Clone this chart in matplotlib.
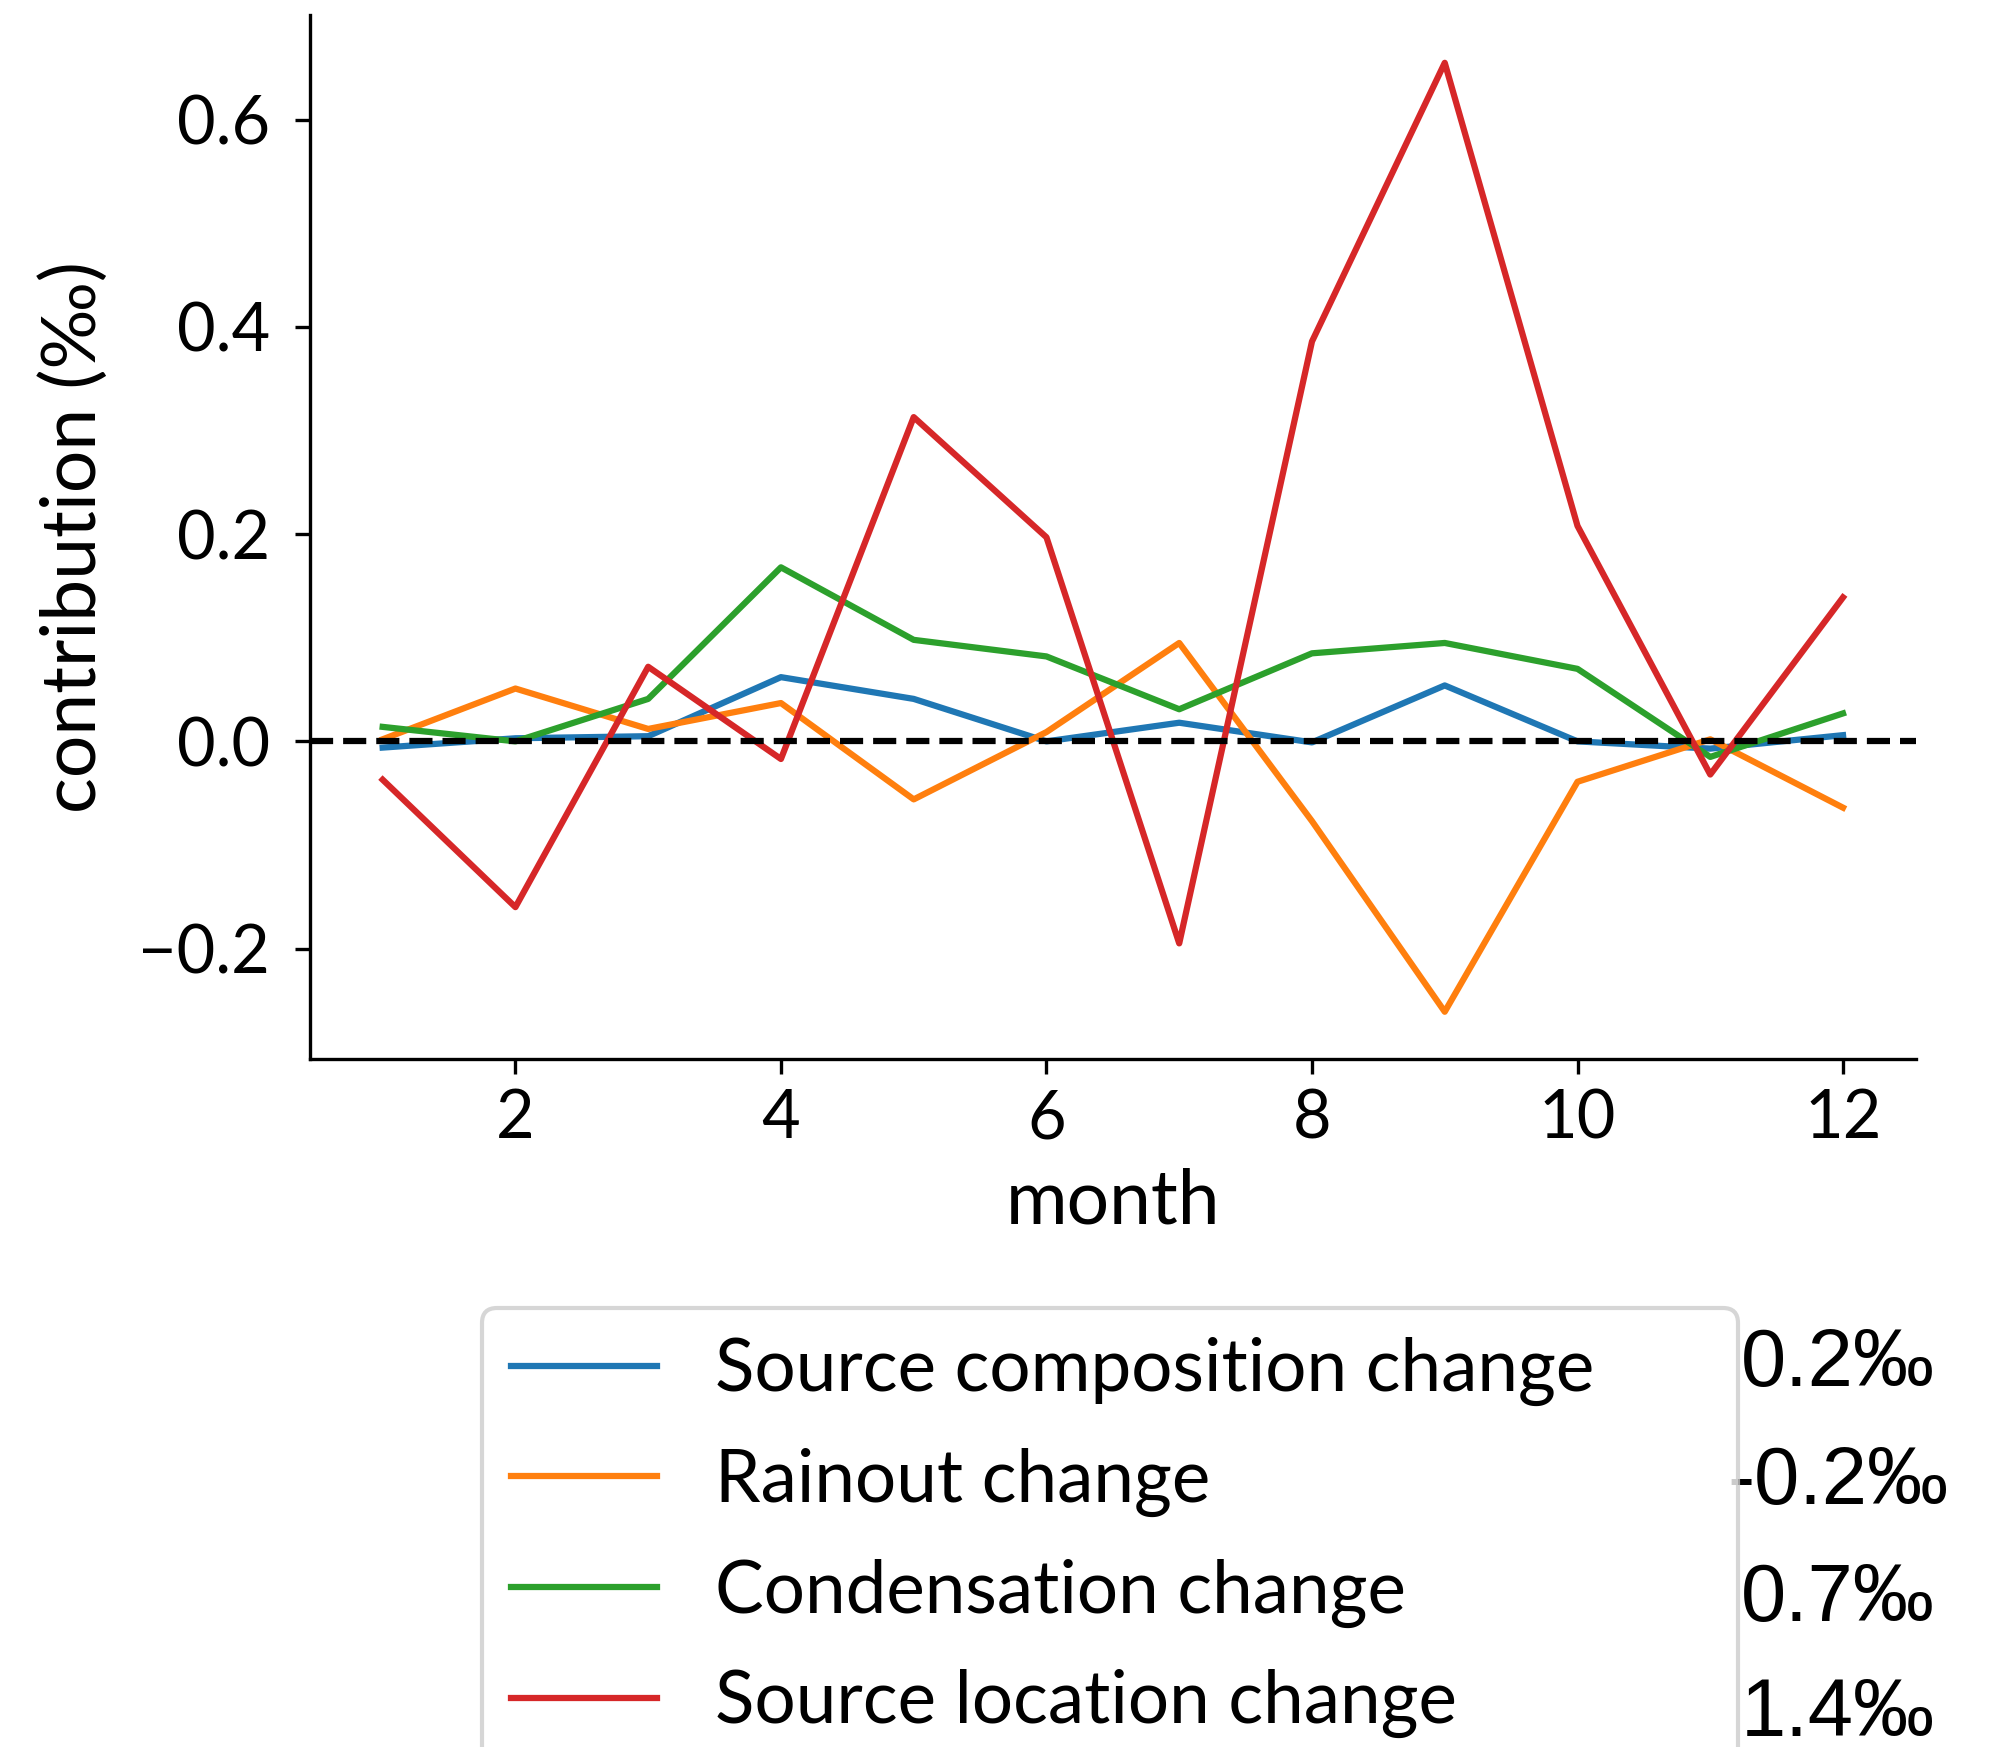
import matplotlib
matplotlib.use('Agg')
import matplotlib.pyplot as plt

plt.rcParams['font.family'] = ['Lato', 'DejaVu Sans']

months = list(range(1, 13))

# monthly contributions (permil)
source_comp = [-0.006, 0.003, 0.005, 0.062, 0.041, 0.0, 0.018, -0.001, 0.054, 0.0, -0.007, 0.006]
rainout = [0.002, 0.051, 0.012, 0.037, -0.056, 0.009, 0.095, -0.077, -0.261, -0.039, 0.002, -0.064]
condensation = [0.014, 0.0, 0.041, 0.168, 0.098, 0.082, 0.031, 0.085, 0.095, 0.070, -0.015, 0.027]
source_loc = [-0.037, -0.160, 0.072, -0.017, 0.313, 0.197, -0.195, 0.386, 0.655, 0.208, -0.032, 0.139]

labels = ['Source composition change', 'Rainout change',
          'Condensation change', 'Source location change']
totals = ['0.2\u2030', '-0.2\u2030', '0.7\u2030', '1.4\u2030']

fig = plt.figure(figsize=(1999 / 300, 1747 / 300), dpi=300)
ax = fig.add_axes([0.1549, 0.3937, 0.9585 - 0.1549, 0.9912 - 0.3937])

for y, lab in zip([source_comp, rainout, condensation, source_loc], labels):
    ax.plot(months, y, label=lab)
ax.axhline(0, color='k', ls='--')

ax.set_xlabel('month', fontsize=18)
ax.set_ylabel('contribution (\u2030)', fontsize=18, labelpad=7)
ax.tick_params(labelsize=16)
ax.tick_params(axis='y', pad=6)
ax.spines['top'].set_visible(False)
ax.spines['right'].set_visible(False)

fig.legend(loc='upper left', bbox_to_anchor=(0.2411, 0.0, 0.6283, 1 - 1308 / 1747),
           bbox_transform=fig.transFigure, mode='expand', borderaxespad=0,
           fontsize=17.5, labelspacing=0.57)

# totals next to the legend
for i, t in enumerate(totals):
    fig.text(1838 / 1999, 1 - [1386, 1504, 1621, 1736][i] / 1747, t,
             ha='center', va='baseline', fontsize=19.5, family='Liberation Sans')

fig.savefig('out.png', dpi=300)
